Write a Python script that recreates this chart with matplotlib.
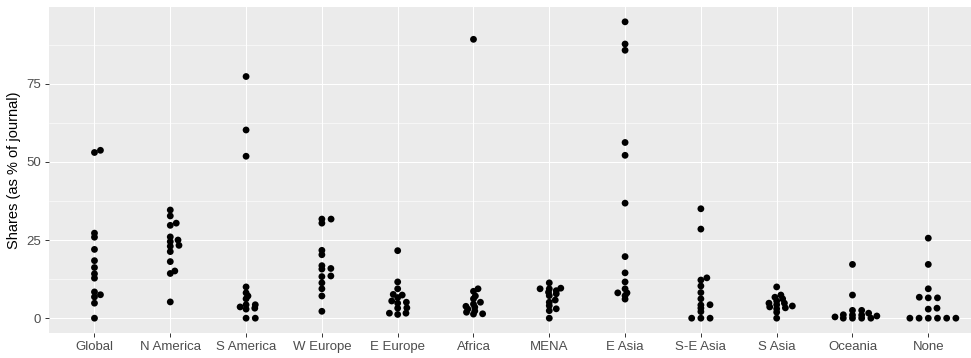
import numpy as np
import matplotlib
matplotlib.use("Agg")
import matplotlib.pyplot as plt
from matplotlib.ticker import MultipleLocator

plt.rcParams['font.family'] = ['Liberation Sans', 'DejaVu Sans']

regions = ["Global", "N America", "S America", "W Europe", "E Europe", "Africa",
           "MENA", "E Asia", "S-E Asia", "S Asia", "Oceania", "None"]

# share of each journal (% of journal), 14 journals per region
global_vals = [53.0, 53.7, 27.2, 25.9, 22.0, 18.4, 16.2, 14.2, 12.8, 8.4, 7.5, 6.8, 4.8, 0.0]
n_america = [34.6, 32.7, 30.4, 29.7, 26.0, 25.0, 24.5, 23.3, 23.0, 21.3, 18.1, 15.1, 14.3, 5.2]
s_america = [77.3, 60.2, 51.8, 10.0, 8.1, 7.1, 6.2, 4.3, 3.6, 2.9, 4.3, 3.2, 0.0, 0.0]
w_europe = [31.7, 30.4, 31.7, 21.7, 20.3, 16.8, 15.7, 15.9, 13.5, 13.3, 11.3, 9.4, 7.1, 2.2]
e_europe = [21.6, 11.6, 9.4, 7.6, 7.4, 6.6, 5.5, 4.8, 5.1, 3.2, 3.3, 1.6, 1.2, 1.6]
africa = [89.2, 9.4, 8.6, 7.1, 6.2, 5.1, 4.5, 3.8, 3.5, 2.9, 2.3, 1.9, 1.4, 1.3]
mena = [11.3, 8.8, 9.6, 9.4, 9.4, 8.3, 7.2, 7.8, 5.8, 5.1, 4.0, 3.0, 2.4, 0.0]
e_asia = [94.8, 87.7, 85.7, 56.2, 52.1, 36.8, 19.7, 14.5, 11.6, 9.4, 8.1, 8.1, 7.2, 6.1]
se_asia = [35.0, 28.5, 12.2, 12.9, 10.3, 8.2, 6.2, 4.3, 4.2, 3.2, 2.1, 0.0, 0.0, 0.0]
s_asia = [10.0, 7.4, 6.7, 6.2, 5.5, 4.8, 4.8, 4.3, 3.9, 3.6, 3.3, 3.0, 1.9, 0.0]
oceania = [17.2, 7.4, 2.5, 2.5, 1.6, 1.1, 1.0, 1.0, 0.7, 0.4, 0.0, 0.0, 0.0, 0.0]
none_vals = [25.6, 17.2, 9.4, 6.7, 6.5, 6.5, 3.2, 2.9, 0.0, 0.0, 0.0, 0.0, 0.0, 0.0]

shares = [global_vals, n_america, s_america, w_europe, e_europe, africa,
          mena, e_asia, se_asia, s_asia, oceania, none_vals]


def swarm_offsets(vals, px_x, px_y, d=9.2, k=3.2):
    # simple beeswarm: lowest values first, each point goes to the free
    # position nearest the centre line (right side wins ties)
    vals = np.asarray(vals, dtype=float)
    offs = np.zeros(len(vals))
    placed = []
    for i in np.argsort(vals, kind="stable"):
        y = vals[i] * px_y * k
        cands = [0.0]
        for px, py in placed:
            gap = abs(y - py)
            if gap < d:
                h = np.sqrt(d * d - gap * gap)
                cands += [px + h, px - h]
        cands.sort(key=lambda c: (round(abs(c), 6), -c))
        for c in cands:
            if all((c - px) ** 2 + (y - py) ** 2 >= d * d - 1e-6 for px, py in placed):
                break
        placed.append((c, y))
        offs[i] = c / px_x
    return offs


W, H = 971, 358
fig = plt.figure(figsize=(W / 100, H / 100), dpi=100)
ax = fig.add_axes([49 / W, 25 / H, 922 / W, 326 / H])
ax.set_facecolor("#EBEBEB")

xlim = (0.4, 0.4 + 922 / 75.8)
ylim = (-4.74, 99.54)
ax.set_xlim(*xlim)
ax.set_ylim(*ylim)

px_x = 922 / (xlim[1] - xlim[0])
px_y = 326 / (ylim[1] - ylim[0])

for i, vals in enumerate(shares):
    x = i + 1 + swarm_offsets(vals, px_x, px_y)
    ax.scatter(x, vals, s=24, color="black", edgecolors="none", zorder=3)

ax.set_xticks(range(1, len(regions) + 1))
ax.set_xticklabels(regions)
ax.yaxis.set_major_locator(MultipleLocator(25))
ax.yaxis.set_minor_locator(MultipleLocator(12.5))
ax.grid(which="major", color="white", linewidth=0.75)
ax.grid(which="minor", axis="y", color="white", linewidth=0.4)
ax.set_axisbelow(True)
for s in ax.spines.values():
    s.set_visible(False)
ax.tick_params(which="major", length=3, width=0.7, color="#333333",
               labelcolor="#4D4D4D", labelsize=9.5, pad=2.5)
ax.tick_params(which="minor", length=0)
ax.set_ylabel("Shares (as % of journal)", fontsize=10.5, color="black", labelpad=4)

fig.savefig("out.png", dpi=100)
